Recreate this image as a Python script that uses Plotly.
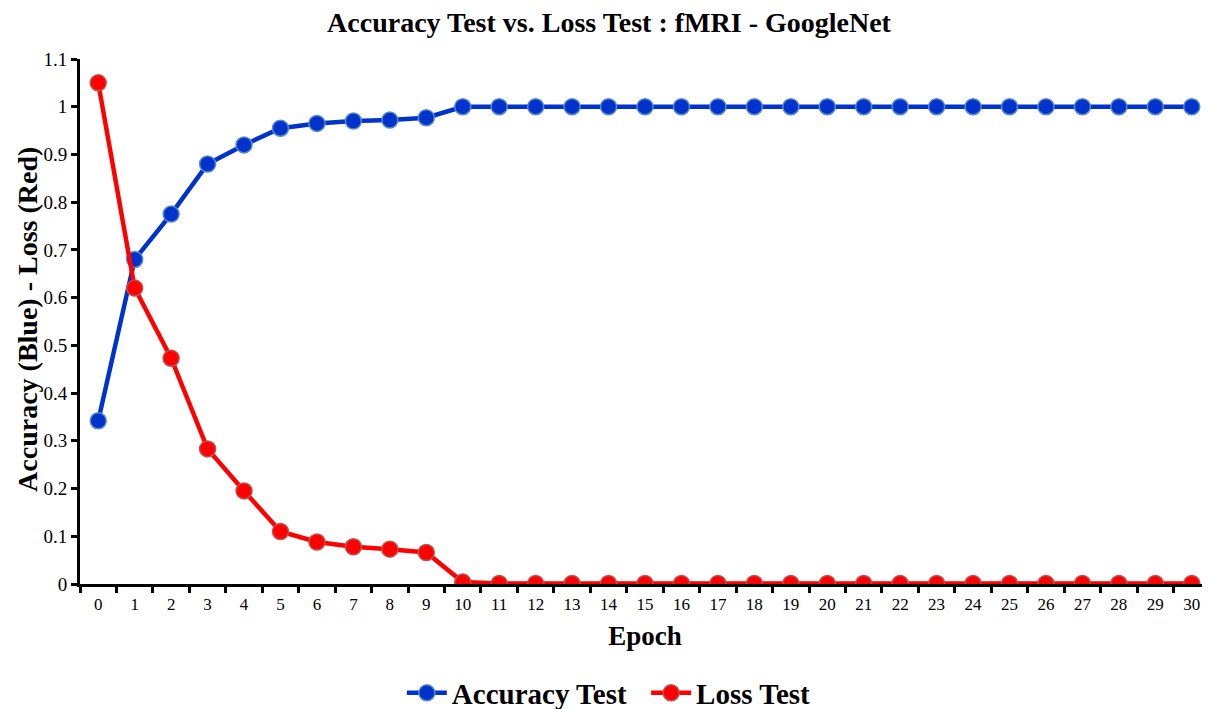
import plotly.graph_objects as go

epochs = [str(i) for i in range(31)]
accuracy = [0.342, 0.68, 0.775, 0.88, 0.92, 0.955, 0.965, 0.97, 0.972, 0.977] + [1.0] * 21
loss = [1.05, 0.62, 0.473, 0.283, 0.195, 0.11, 0.088, 0.078, 0.073, 0.066, 0.004] + [0.001] * 20

FONT = "Liberation Serif"

fig = go.Figure()
fig.add_trace(go.Scatter(
    x=epochs, y=accuracy, mode="lines+markers", name="<b>Accuracy Test</b>&nbsp;&nbsp;",
    line=dict(color="#0033CC", width=4.5),
    marker=dict(size=16, color="#0033CC", line=dict(color="#5A88C8", width=1.5)),
))
fig.add_trace(go.Scatter(
    x=epochs, y=loss, mode="lines+markers", name="<b>Loss Test</b>",
    line=dict(color="#FF0000", width=4.5),
    marker=dict(size=16, color="#FF0000", line=dict(color="#C05050", width=1.5)),
))

fig.update_layout(
    width=1202, height=701,
    paper_bgcolor="white", plot_bgcolor="white",
    margin=dict(l=72, r=0, t=51, b=125, autoexpand=False),
    title=dict(text="<b>Accuracy Test vs. Loss Test : fMRI - GoogleNet</b>",
               x=0.5, xanchor="center", y=0.980, yanchor="middle",
               font=dict(family=FONT, size=28, color="black")),
    font=dict(family=FONT, color="black"),
    showlegend=True,
    legend=dict(orientation="h", x=0.468, xanchor="center", y=-0.2076, yanchor="middle",
                font=dict(family=FONT, size=29, color="black"),
                itemwidth=40, traceorder="normal"),
    xaxis=dict(
        type="category", tickson="boundaries", automargin=False,
        ticks="outside", ticklen=6, tickwidth=3, tickcolor="black",
        showline=True, linecolor="black", linewidth=3,
        showgrid=False, zeroline=False, ticklabelstandoff=3,
        tickfont=dict(family=FONT, size=17, color="black"),
        title=dict(text="<b>Epoch</b>", font=dict(family=FONT, size=27, color="black"), standoff=13),
        range=[-0.5, 30.5],
    ),
    yaxis=dict(
        range=[0, 1.1], dtick=0.1, tick0=0, automargin=False,
        ticks="outside", ticklen=6, tickwidth=3, tickcolor="black",
        showline=True, linecolor="black", linewidth=3,
        showgrid=False, zeroline=False,
        tickfont=dict(family=FONT, size=19, color="black"),
    ),
    annotations=[dict(
        text="<b>Accuracy (Blue) - Loss (Red)</b>", textangle=-90,
        xref="paper", yref="paper", x=0, y=0.503, xanchor="center", yanchor="middle",
        xshift=-52, showarrow=False, borderpad=0,
        font=dict(family=FONT, size=28, color="black"),
    )],
)

fig.write_html("out.html")
